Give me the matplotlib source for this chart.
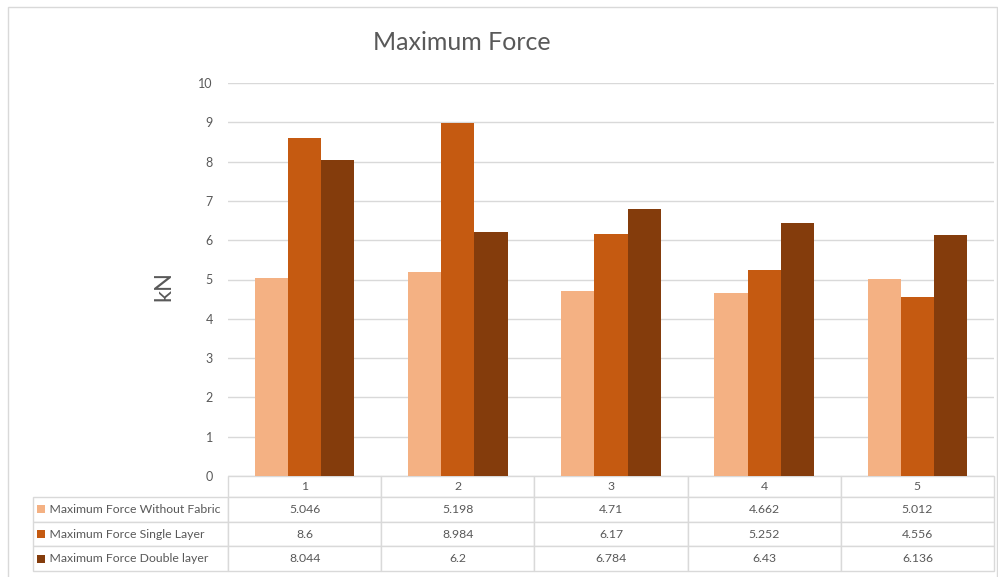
import matplotlib.pyplot as plt
from matplotlib.table import Table
from matplotlib.patches import Rectangle
import numpy as np

plt.rcParams['font.family'] = ['Lato', 'DejaVu Sans']

samples = ['1', '2', '3', '4', '5']
series_names = ['Maximum Force Without Fabric',
                'Maximum Force Single Layer',
                'Maximum Force Double layer']
without_fabric = [5.046, 5.198, 4.71, 4.662, 5.012]
single_layer = [8.6, 8.984, 6.17, 5.252, 4.556]
double_layer = [8.044, 6.2, 6.784, 6.43, 6.136]
colors = ['#F4B183', '#C55A11', '#843C0C']

W, H = 998, 577
fig = plt.figure(figsize=(W / 100, H / 100), dpi=100)

# outer chart frame (bottom edge falls outside the image)
fig.patches.append(Rectangle((8 / W, -2 / H), 989 / W, (H - 7 + 2) / H, transform=fig.transFigure,
                             fill=False, edgecolor='#D9D9D9', lw=1))

ax = fig.add_axes([228 / W, 1 - 476 / H, 766 / W, 393 / H])

x = np.arange(len(samples))
bw = 0.217
all_series = [without_fabric, single_layer, double_layer]
for i, vals in enumerate(all_series):
    ax.bar(x + (i - 1) * bw, vals, width=bw, color=colors[i], zorder=3)

ax.set_xlim(-0.5, len(samples) - 0.5)
ax.set_ylim(0, 10)
ax.set_yticks(range(0, 11))
ax.grid(axis='y', color='#D9D9D9', lw=1, zorder=0)
for s in ax.spines.values():
    s.set_visible(False)
ax.set_xticks([])
ax.tick_params(axis='y', length=0, pad=11, labelsize=9, labelcolor='#595959')

fig.text(462 / W, 1 - 42 / H, 'Maximum Force', ha='center', va='center',
         fontsize=18, color='#595959')
fig.text(164 / W, 1 - 286 / H, 'kN', ha='center', va='center', rotation=90,
         fontsize=17, color='#595959')

# data table under the plot
lab_w = 195 / 766
col_w = 1 / len(samples)
tab_h = 95 / 393
head_h = 21 / 393
row_h = (tab_h - head_h) / 3
tab = Table(ax, bbox=[-lab_w, -tab_h, 1 + lab_w, tab_h])
edge = '#D9D9D9'
c = tab.add_cell(0, 0, lab_w, head_h, text='', loc='left', edgecolor=edge)
c.visible_edges = ''
for j, s in enumerate(samples):
    tab.add_cell(0, j + 1, col_w, head_h, text=s, loc='center', edgecolor=edge)
for r, (name, vals) in enumerate(zip(series_names, all_series)):
    tab.add_cell(r + 1, 0, lab_w, row_h, text='    ' + name, loc='left', edgecolor=edge)
    for j, v in enumerate(vals):
        tab.add_cell(r + 1, j + 1, col_w, row_h, text=str(v), loc='center', edgecolor=edge)
tab.auto_set_font_size(False)
tab.set_fontsize(8.8)
for cell in tab.get_celld().values():
    cell.get_text().set_color('#595959')
    cell.PAD = 0.02
ax.add_table(tab)

# legend keys in the row labels
for r in range(3):
    yc = -head_h - row_h * (r + 0.5)
    ax.add_patch(Rectangle((-(228 - 37) / 766, yc - 4 / 393), 8 / 766, 8 / 393,
                           transform=ax.transAxes, clip_on=False,
                           facecolor=colors[r], edgecolor='none'))

fig.savefig('out.png', dpi=100)
